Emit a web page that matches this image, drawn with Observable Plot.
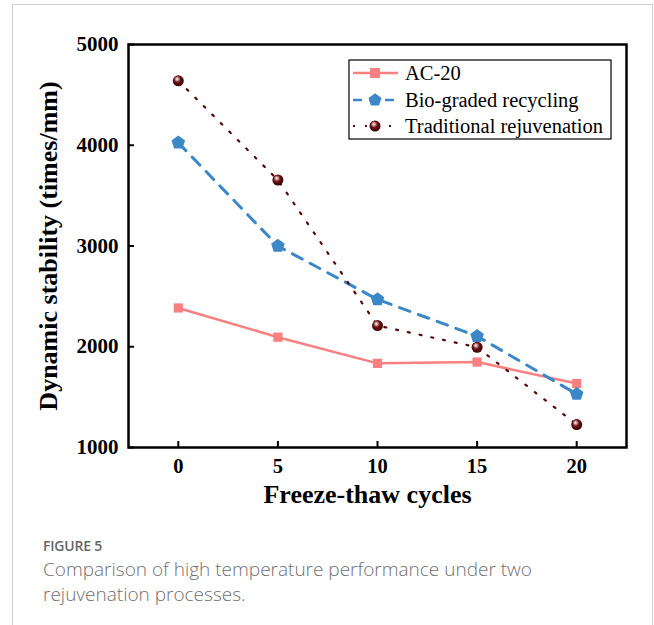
<!DOCTYPE html>
<html>
<head>
<meta charset="utf-8">
<script src="https://cdn.jsdelivr.net/npm/d3@7"></script>
<script src="https://cdn.jsdelivr.net/npm/@observablehq/plot@0.6"></script>
<style>
  html, body { margin: 0; padding: 0; background: #fff; }
  #wrap { position: relative; width: 654px; height: 625px; overflow: hidden; }
  #border { position: absolute; left: 12px; top: 4px; width: 641px; height: 700px; border: 1px solid #cfcfcf; box-sizing: border-box; }
  #chart { position: absolute; left: 0; top: 0; }
  #legend { position: absolute; left: 0; top: 0; }
  #cap { position: absolute; left: 43px; top: 538px; font-family: "Open Sans", sans-serif; color: #707070; }
  #cap .fig { font-size: 14px; font-weight: 600; color: #666; line-height: 16px; letter-spacing: -0.2px; margin-bottom: 3px; }
  #cap .txt { font-size: 19px; line-height: 25px; font-weight: 300; }
</style>
</head>
<body>
<div id="wrap">
  <div id="border"></div>
  <div id="chart"></div>
  <div id="legend"></div>
  <div id="cap">
    <div class="fig">FIGURE 5</div>
    <div class="txt">Comparison of high temperature performance under two<br>rejuvenation processes.</div>
  </div>
</div>
<script>
const cycles = [0, 5, 10, 15, 20];
const ac20 = [2385, 2095, 1835, 1848, 1635];
const bioGraded = [4025, 3000, 2470, 2105, 1530];
const traditional = [4640, 3655, 2210, 1995, 1228];
const seriesNames = ["AC-20", "Bio-graded recycling", "Traditional rejuvenation"];
const yTicks = [1000, 2000, 3000, 4000, 5000];
const xTicks = [0, 5, 10, 15, 20];
const colors = ["#F88080", "#3B87C8", "#5A0A0A"];

const rows = s => cycles.map((c, i) => ({x: c, y: s[i]}));
const dAC = rows(ac20), dBio = rows(bioGraded), dTr = rows(traditional);

// custom pentagon symbol
const pentagon = {
  draw(ctx, size) {
    const r = Math.sqrt(size / 2.378);
    for (let i = 0; i < 5; i++) {
      const a = -Math.PI / 2 + i * 2 * Math.PI / 5;
      const px = r * Math.cos(a), py = r * Math.sin(a);
      if (i === 0) ctx.moveTo(px, py); else ctx.lineTo(px, py);
    }
    ctx.closePath();
  }
};

const serif = "'Liberation Serif', 'Times New Roman', serif";

const plot = Plot.plot({
  width: 654,
  height: 515,
  marginLeft: 128,
  marginRight: 28,
  marginTop: 44,
  marginBottom: 68,
  style: {fontFamily: serif, fontWeight: "bold", color: "#000", background: "transparent"},
  x: {domain: [-2.5, 22.5], ticks: xTicks},
  y: {domain: [1000, 5000], ticks: yTicks},
  marks: [
    Plot.axisY({ticks: yTicks, tickSize: -6, tickPadding: 16, fontSize: 21, tickFormat: d => String(d), label: null, strokeWidth: 2}),
    Plot.axisX({ticks: xTicks, tickSize: -6, tickPadding: 17, fontSize: 20.5, tickFormat: d => String(d), label: null, strokeWidth: 2}),
    Plot.line(dAC, {x: "x", y: "y", stroke: colors[0], strokeWidth: 2.5}),
    Plot.line(dBio, {x: "x", y: "y", stroke: colors[1], strokeWidth: 3, strokeDasharray: "11,9"}),
    Plot.line(dTr, {x: "x", y: "y", stroke: colors[2], strokeWidth: 2.2, strokeDasharray: "2,10"}),
    Plot.dot(dAC, {x: "x", y: "y", symbol: "square", r: 5.2, fill: colors[0], stroke: "none"}),
    Plot.dot(dBio, {x: "x", y: "y", symbol: pentagon, r: 6.2, fill: colors[1], stroke: "none"}),
    Plot.dot(dTr, {x: "x", y: "y", r: 5.5, fill: "url(#sphere)", stroke: "none"}),
    Plot.frame({stroke: "#000", strokeWidth: 2.5}),
    Plot.text(["Freeze-thaw cycles"], {frameAnchor: "bottom", dy: 55, fontSize: 26, fontWeight: "bold", text: d => d, dx: -10}),
    Plot.text(["Dynamic stability (times/mm)"], {frameAnchor: "left", textAnchor: "middle", dx: -80, rotate: -90, fontSize: 26, fontWeight: "bold", text: d => d})
  ]
});
document.getElementById("chart").appendChild(plot);

const svg = d3.select(plot);
const defs = svg.insert("defs", ":first-child");
const g = defs.append("radialGradient").attr("id", "sphere").attr("cx", "45%").attr("cy", "40%").attr("r", "60%").attr("fx", "38%").attr("fy", "32%");
g.append("stop").attr("offset", "0%").attr("stop-color", "#ffffff");
g.append("stop").attr("offset", "22%").attr("stop-color", "#c89a9a");
g.append("stop").attr("offset", "50%").attr("stop-color", "#6a1010");
g.append("stop").attr("offset", "100%").attr("stop-color", "#3a0000");

// Legend
const lg = d3.select("#legend").append("svg").attr("width", 654).attr("height", 160);
const lx = 349, ly = 60, lw = 262, lh = 79;
const defs2 = lg.append("defs");
const g2 = defs2.append("radialGradient").attr("id", "sphere2").attr("cx", "45%").attr("cy", "40%").attr("r", "60%").attr("fx", "38%").attr("fy", "32%");
g2.append("stop").attr("offset", "0%").attr("stop-color", "#ffffff");
g2.append("stop").attr("offset", "22%").attr("stop-color", "#c89a9a");
g2.append("stop").attr("offset", "50%").attr("stop-color", "#6a1010");
g2.append("stop").attr("offset", "100%").attr("stop-color", "#3a0000");
lg.append("rect").attr("x", lx).attr("y", ly).attr("width", lw).attr("height", lh).attr("fill", "#fff").attr("stroke", "#000").attr("stroke-width", 1.2);
const rowsY = [73, 100, 126];
const dashes = [null, "9,7", "2,10"];
seriesNames.forEach((name, i) => {
  const y = rowsY[i];
  const line = lg.append("line").attr("x1", 353).attr("x2", 398).attr("y1", y).attr("y2", y)
    .attr("stroke", colors[i]).attr("stroke-width", i === 2 ? 2 : 2.5);
  if (dashes[i]) line.attr("stroke-dasharray", dashes[i]);
  if (i === 0) lg.append("rect").attr("x", 375 - 5).attr("y", y - 5).attr("width", 10).attr("height", 10).attr("fill", colors[0]);
  if (i === 1) lg.append("path").attr("transform", `translate(375,${y})`).attr("d", d3.symbol(pentagon, 110)()).attr("fill", colors[1]);
  if (i === 2) lg.append("circle").attr("cx", 375).attr("cy", y).attr("r", 5.5).attr("fill", "url(#sphere2)");
  lg.append("text").attr("x", 405).attr("y", y).attr("dy", "0.35em").attr("font-family", serif).attr("font-size", 20.5).attr("fill", "#000").text(name);
});
</script>
</body>
</html>
